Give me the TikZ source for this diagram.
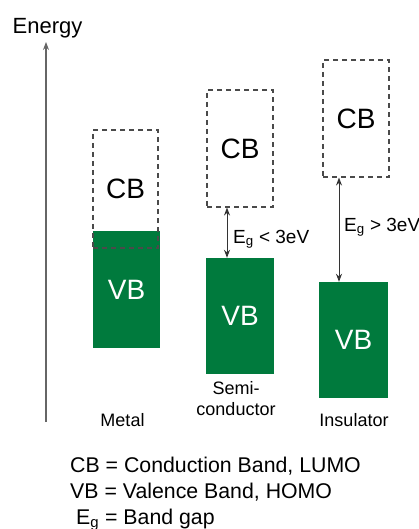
\documentclass[tikz,border=0pt]{standalone}
\usepackage{fontspec}
\setmainfont{Liberation Sans}
\usepackage{tikz}
\usetikzlibrary{positioning,arrows.meta}
\usepackage{xcolor}
\definecolor{bandgreen}{HTML}{007A3D}
\definecolor{dashgray}{HTML}{4A4A4A}

\begin{document}
\begin{tikzpicture}[x=1pt,y=-1pt,>={Stealth[length=8pt,width=6pt]},
  vband/.style={fill=bandgreen,text=white,inner sep=0pt,font=\fontsize{28}{30}\selectfont},
  cband/.style={draw=dashgray,dash pattern=on 5pt off 4pt,line width=1.1pt,inner sep=0pt,font=\fontsize{28}{30}\selectfont},
  kind/.style={font=\fontsize{18}{21}\selectfont,align=center,inner sep=0pt},
  gap/.style={font=\fontsize{19}{20}\selectfont,inner sep=0pt,anchor=base west},
  legend/.style={font=\fontsize{21.3}{23}\selectfont,inner sep=0pt,anchor=base west}]
\useasboundingbox (0,0) rectangle (419,529);
% energy axis
\node[font=\fontsize{22}{24}\selectfont,inner sep=0pt,anchor=base west] (energy) at (12.5,34) {Energy};
\coordinate (axbot) at (46,422);
\coordinate (axtop) at (46,42);
\draw[->,draw=gray!80!black,line width=1.2pt] (axbot) -- (axtop);
% valence bands
\node[vband,minimum width=67pt,minimum height=117pt] (mVB) at (126.5,289.5) {VB};
\node[vband,minimum width=68pt,minimum height=116pt] (sVB) at (240,316) {VB};
\node[vband,minimum width=69pt,minimum height=116pt] (iVB) at (353.5,340) {VB};
% conduction bands
\node[cband,minimum width=65pt,minimum height=118pt] (mCB) at (125.5,189) {CB};
\node[cband,minimum width=66pt,minimum height=117pt] (sCB) at (240,148.5) {CB};
\node[cband,minimum width=66pt,minimum height=117pt] (iCB) at (356,118.5) {CB};
% band gaps
\draw[<->,line width=1pt,draw=black!80] ([xshift=-13pt]sCB.south) -- ([xshift=-13pt]sCB.south |- sVB.north);
\draw[<->,line width=1pt,draw=black!80] ([xshift=-17pt]iCB.south) -- ([xshift=-17pt]iCB.south |- iVB.north);
\node[gap] (sgap) at (233,243) {E\textsubscript{g} < 3eV};
\node[gap] (igap) at (344,231) {E\textsubscript{g} > 3eV};
% material names
\node[kind,anchor=base] (metal) at (122.5,426) {Metal};
\node[kind,anchor=base] (semi) at (236,415) {Semi-\\conductor};
\node[kind,anchor=base] (insul) at (354,426) {Insulator};
% legend
\node[legend] (lcb) at (70,472) {CB = Conduction Band, LUMO};
\node[legend] (lvb) at (70,498) {VB = Valence Band, HOMO};
\node[legend] (leg) at (76,524) {E\textsubscript{g} = Band gap};
\end{tikzpicture}
\end{document}
